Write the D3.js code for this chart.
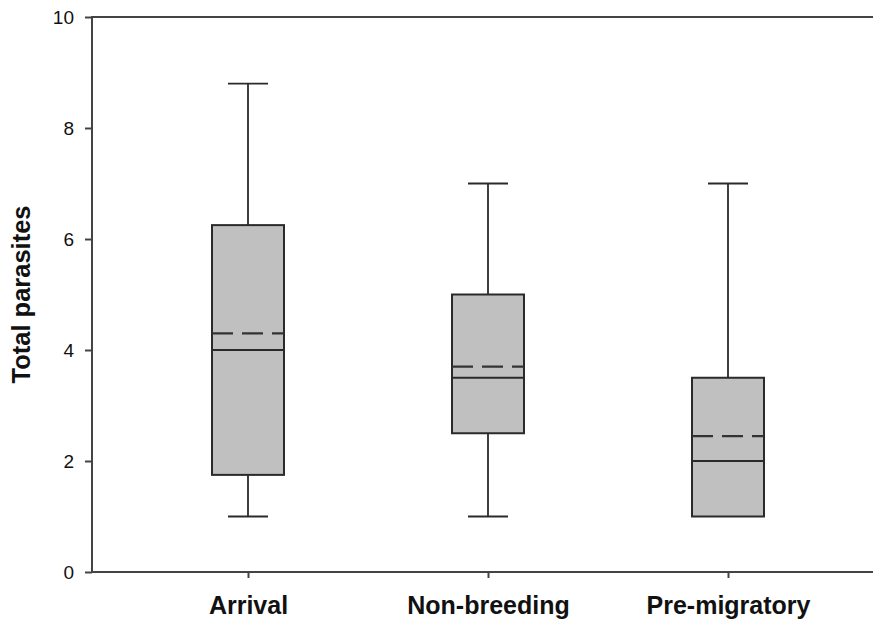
<!DOCTYPE html>
<html>
<head>
<meta charset="utf-8">
<script src="https://cdn.jsdelivr.net/npm/d3@7"></script>
<style>
  html, body { margin: 0; padding: 0; background: #fff; overflow: hidden; }
  svg { display: block; font-family: "Liberation Sans", Arial, sans-serif; }
</style>
</head>
<body>
<div id="chart"></div>
<script>
// box plot data
const categories = ['Arrival', 'Non-breeding', 'Pre-migratory'];
const whiskerLow = [1, 1, 1];
const q1 = [1.75, 2.5, 1.0];
const median = [4.0, 3.5, 2.0];
const mean = [4.3, 3.7, 2.45];
const q3 = [6.25, 5.0, 3.5];
const whiskerHigh = [8.8, 7, 7];
const yTicks = [0, 2, 4, 6, 8, 10];

const width = 873, height = 626;
const margin = { top: 17, bottom: 54, left: 92 };
const plotWidth = 792; // plot runs a little past the right edge of the picture
const innerHeight = height - margin.top - margin.bottom;

const svg = d3.select('#chart').append('svg')
    .attr('width', width)
    .attr('height', height);

const chart = svg.append('g')
    .attr('transform', `translate(${margin.left},${margin.top})`);

const x = d3.scalePoint()
    .domain(categories)
    .range([0, plotWidth])
    .padding(0.65);

const y = d3.scaleLinear()
    .domain([0, 10])
    .range([innerHeight, 0]);

const step = x.step();
const boxW = step * 0.3;
const capHalf = 20;

const boxes = categories.map((c, i) => ({
    cat: c, lo: whiskerLow[i], q1: q1[i], med: median[i],
    mean: mean[i], q3: q3[i], hi: whiskerHigh[i]
}));

const ink = '#2a2a2a';

const g = chart.selectAll('.box')
    .data(boxes)
    .enter().append('g')
    .attr('class', 'box')
    .attr('transform', d => `translate(${x(d.cat)},0)`);

// whiskers
const lower = g.filter(d => d.lo < d.q1);
lower.append('line')
    .attr('y1', d => y(d.lo)).attr('y2', d => y(d.q1))
    .attr('stroke', ink).attr('stroke-width', 1.8);
lower.append('line')
    .attr('x1', -capHalf).attr('x2', capHalf)
    .attr('y1', d => y(d.lo)).attr('y2', d => y(d.lo))
    .attr('stroke', ink).attr('stroke-width', 1.8);
g.append('line')
    .attr('y1', d => y(d.q3)).attr('y2', d => y(d.hi))
    .attr('stroke', ink).attr('stroke-width', 1.8);
g.append('line')
    .attr('x1', -capHalf).attr('x2', capHalf)
    .attr('y1', d => y(d.hi)).attr('y2', d => y(d.hi))
    .attr('stroke', ink).attr('stroke-width', 1.8);

// box
g.append('rect')
    .attr('x', -boxW / 2)
    .attr('width', boxW)
    .attr('y', d => y(d.q3))
    .attr('height', d => y(d.q1) - y(d.q3))
    .attr('fill', '#c0c0c0')
    .attr('stroke', ink)
    .attr('stroke-width', 2);

// median
g.append('line')
    .attr('x1', -boxW / 2).attr('x2', boxW / 2)
    .attr('y1', d => y(d.med)).attr('y2', d => y(d.med))
    .attr('stroke', ink).attr('stroke-width', 2);

// mean (dashed)
g.append('line')
    .attr('x1', -boxW / 2).attr('x2', boxW / 2)
    .attr('y1', d => y(d.mean)).attr('y2', d => y(d.mean))
    .attr('stroke', '#333').attr('stroke-width', 2.2)
    .attr('stroke-dasharray', '21,9');

// frame: left, top, bottom (right side is off the picture)
const frame = chart.append('g')
    .attr('stroke', '#444')
    .attr('stroke-width', 2);
frame.append('line').attr('x1', 0).attr('x2', 0).attr('y1', 0).attr('y2', innerHeight);
frame.append('line').attr('x1', -1).attr('x2', plotWidth).attr('y1', 0).attr('y2', 0);
frame.append('line').attr('x1', -1).attr('x2', plotWidth).attr('y1', innerHeight).attr('y2', innerHeight);

// y axis
const yAxis = chart.append('g')
    .call(d3.axisLeft(y).tickValues(yTicks).tickSize(7).tickPadding(11));
yAxis.select('.domain').remove();
yAxis.selectAll('line').attr('stroke', '#444').attr('stroke-width', 2);
yAxis.selectAll('text')
    .style('font-size', '19px')
    .style('font-family', '"Liberation Sans", Arial, sans-serif')
    .attr('fill', '#111');

// x axis
const xAxis = chart.append('g')
    .attr('transform', `translate(0,${innerHeight})`)
    .call(d3.axisBottom(x).tickSize(6).tickPadding(18));
xAxis.select('.domain').remove();
xAxis.selectAll('line').attr('stroke', '#444').attr('stroke-width', 2);
xAxis.selectAll('text')
    .style('font-size', '25px')
    .style('font-weight', 'bold')
    .style('font-family', '"Liberation Sans", Arial, sans-serif')
    .attr('fill', '#111');

// y title
svg.append('text')
    .attr('transform', `translate(30,${margin.top + innerHeight / 2}) rotate(-90)`)
    .attr('text-anchor', 'middle')
    .style('font-size', '25.5px')
    .style('font-weight', 'bold')
    .attr('fill', '#111')
    .text('Total parasites');
</script>
</body>
</html>
